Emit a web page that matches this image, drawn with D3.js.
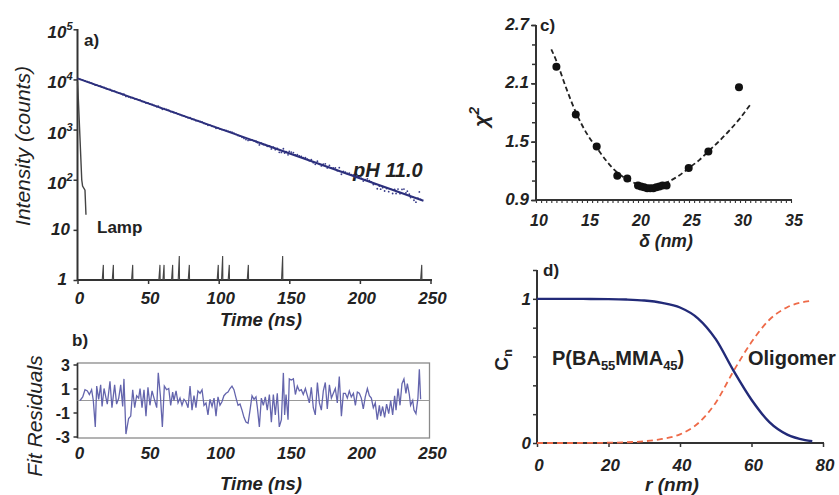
<!DOCTYPE html>
<html>
<head>
<meta charset="utf-8">
<script src="https://cdn.jsdelivr.net/npm/d3@7"></script>
<style>
  body { margin: 0; background: #fff; }
  svg { display: block; }
  text { font-family: "Liberation Sans", Arial, Helvetica, sans-serif; fill: #222; }
</style>
</head>
<body>
<svg id="fig" width="839" height="495"></svg>
<script>
// ---------- a) fluorescence decay at pH 11.0 ----------
const fitStart = [0, 10500];          // single-exponential fit, start (ns, counts)
const fitEnd = [245, 38];             // single-exponential fit, end (ns, counts)
const lampTime = [0, 0.6, 3.0, 3.6, 5.3, 6.0];
const lampCounts = [9000, 4000, 100, 75, 62, 20];
const lampSpikeTime = [18.3, 25.4, 39.1, 58.4, 61.3, 67.4, 72.1, 79.2, 99.7, 102.8, 107.5, 121, 145.3, 243.8];
const lampSpikeCounts = [2, 2, 2, 2, 2, 2, 3, 2, 2, 3, 2, 2, 3, 2];
const decayTicks = [1, 10, 100, 1000, 10000, 100000];
const decayTickLabels = [["1", ""], ["10", ""], ["10", "2"], ["10", "3"], ["10", "4"], ["10", "5"]];
const timeTicks = [0, 50, 100, 150, 200, 250];

// ---------- b) weighted fit residuals ----------
const residTime = [1.8,3.7,5.3,7.0,8.4,10.0,11.2,12.6,13.6,15.0,16.4,17.4,18.8,20.2,21.1,23.0,24.4,26.3,27.7,29.2,
  30.6,32.0,32.9,34.3,36.2,37.7,39.1,40.5,41.9,43.3,44.3,45.7,47.1,48.5,49.9,51.3,52.8,54.2,56.1,57.2,
  58.7,60.1,61.5,63.1,64.6,66.0,67.4,68.3,69.8,71.2,72.6,74.0,75.4,76.8,78.3,79.7,81.1,82.5,83.9,85.3,
  86.8,88.2,89.6,91.0,92.4,93.8,95.3,96.7,98.1,99.5,100.9,102.3,103.7,105.2,106.6,108.0,109.4,110.8,112.3,113.7,
  115.1,116.5,117.9,119.3,120.8,122.2,123.6,125.0,126.4,127.4,128.8,130.2,131.6,133.0,134.4,135.9,137.3,138.7,140.1,141.5,
  142.9,144.4,145.8,146.7,147.7,149.1,150.0,151.4,152.9,154.3,155.7,157.1,158.5,159.9,161.4,162.8,164.2,165.6,167.0,168.4,
  169.9,171.3,172.7,174.1,175.5,176.9,178.4,179.8,181.2,182.6,184.0,185.4,186.9,188.3,189.7,191.1,192.5,193.9,195.4,196.8,
  198.2,199.6,201.0,202.4,203.8,205.3,206.7,208.1,209.5,210.9,212.3,213.8,214.7,216.1,217.5,218.9,220.4,221.8,223.2,224.6,
  225.6,227.0,228.4,229.8,231.2,232.6,233.6,235.0,235.9,237.4,238.3,239.7,241.1,242.1,243.0];
const residValue = [0,0.3,0.9,0.8,0.5,0.9,0,-2.2,1.2,0.1,1.3,-0.5,1.0,0.2,-0.3,1.6,-0.6,1.3,-0.3,0.2,
  1.3,-0.5,1.8,-2.8,-1.5,-1.3,0.9,-0.6,0.4,0.2,1.0,-0.6,0.9,-1.3,1.1,-0.4,0.8,0.2,-0.6,2.3,
  0.4,-2.2,1.2,0.9,1.0,-0.4,0.7,0,0.8,-0.2,0.2,-0.4,0.1,-0.1,-0.6,1.2,-0.8,0.4,-0.6,0.8,
  0.6,0.9,-0.4,-0.2,-1.2,0.1,-0.5,0.2,-1.3,0.3,-0.4,-0.1,0.4,0.6,0.7,1.0,1.2,0.9,0.2,-0.4,
  -0.3,-0.8,-1.4,-1.8,-1.9,-0.8,0.4,0.1,0.3,-0.6,-2.2,0.2,-0.4,0.3,-0.8,0.5,-1.8,0.5,-1.2,0.6,
  -2.2,-1.6,2.3,-1.2,0.5,-1.6,1.8,1.7,1.8,0.5,1.2,0.8,0.9,0.5,1.0,0.4,-0.2,1.1,-0.6,-1.2,
  1.5,-0.2,-0.8,0.8,1.5,-0.7,1.3,0.2,0.6,1.0,-0.2,2.0,-1.3,0.6,0.6,0.2,0.8,0.3,0.6,-0.4,
  0.7,0.6,0.2,-0.7,0.3,1.0,0.4,0.2,-0.6,-0.2,-1.6,-0.4,-1.3,-0.5,-1.4,-0.3,-1.1,0.0,-1.2,0.4,
  -0.8,1.0,-0.4,1.4,1.8,0.6,1.4,0.5,-0.4,0.0,-0.8,-1.1,0.2,2.6,0.1];
const residTicks = [-3, -1, 1, 3];

// ---------- c) chi-square versus interface thickness ----------
const deltaNm = [12.0,13.9,15.95,17.97,18.95,20.0,20.3,20.6,20.9,21.2,21.5,21.8,22.1,22.4,22.8,24.97,26.9,29.9];
const chiSq   = [2.27,1.78,1.45,1.15,1.12,1.05,1.04,1.03,1.02,1.02,1.02,1.03,1.04,1.05,1.05,1.23,1.40,2.06];
const chiFitDelta = [11.5,12,13,14,15,16,17,18,19,20,21,22,23,24,25,26,27,28,29,30,31];
const chiFitValue = [2.45,2.33,2.04,1.78,1.58,1.43,1.29,1.18,1.11,1.06,1.04,1.05,1.09,1.15,1.23,1.31,1.41,1.51,1.62,1.74,1.88];
const deltaTicks = [10, 15, 20, 25, 30, 35];
const chiTicks = [0.9, 1.5, 2.1, 2.7];

// ---------- d) concentration profiles ----------
const rNm = [0,5,10,15,20,25,30,35,40,45,50,55,60,65,70,75,77];
const cnPolymer  = [1,1,1,0.999,0.998,0.995,0.988,0.972,0.94,0.865,0.72,0.5,0.3,0.145,0.058,0.02,0.012];
const cnOligomer = [0,0,0,0.001,0.002,0.005,0.012,0.028,0.06,0.135,0.28,0.5,0.7,0.855,0.942,0.98,0.988];
const rTicks = [0, 20, 40, 60, 80];
const cnTicks = [0, 1];

const svg = d3.select("#fig");
const AXIS = "#333";
const NAVY = "#2c2f7c";

function label(x, y, str, opts = {}) {
  return svg.append("text")
    .attr("x", x).attr("y", y)
    .attr("text-anchor", opts.anchor || "start")
    .attr("font-size", opts.size || 16)
    .attr("font-weight", opts.weight || "bold")
    .attr("font-style", opts.style || "normal")
    .text(str);
}
function styleAxis(g) {
  g.select(".domain").remove();
  g.selectAll(".tick line").attr("stroke", AXIS).attr("stroke-width", 1.5);
  g.selectAll(".tick text").remove();
}

// ===== panel a =====
const xA = d3.scaleLinear().domain([0, 250]).range([77.5, 430.5]);
const yA = d3.scaleLog().domain([1, 1e5]).range([280, 29.3]);

svg.append("g").attr("transform", "translate(77.5,0)")
  .call(d3.axisLeft(yA).tickValues(decayTicks).tickSize(4).tickFormat(""))
  .call(styleAxis);
svg.append("g").attr("transform", "translate(0,280)")
  .call(d3.axisBottom(xA).tickValues(timeTicks).tickSize(4).tickFormat(""))
  .call(styleAxis);
svg.append("line").attr("x1", 77.5).attr("x2", 77.5).attr("y1", 29).attr("y2", 280)
  .attr("stroke", AXIS).attr("stroke-width", 2);
svg.append("line").attr("x1", 77.5).attr("x2", 432).attr("y1", 280).attr("y2", 280)
  .attr("stroke", AXIS).attr("stroke-width", 2);

decayTicks.forEach((v, i) => {
  const [base, sup] = decayTickLabels[i];
  const t = svg.append("text")
    .attr("x", sup ? 72.5 : (v === 1 ? 67 : 70))
    .attr("y", yA(v) + (sup ? 9 : 5))
    .attr("text-anchor", "end").attr("font-size", 17)
    .attr("font-weight", "bold").attr("font-style", "italic")
    .text(base);
  if (sup) t.append("tspan").attr("font-size", 11).attr("dy", -8).text(sup);
});
timeTicks.forEach(v => label(xA(v) + 2, 304, String(v), { anchor: "middle", size: 17, style: "italic" }));
label(261, 326, "Time (ns)", { anchor: "middle", size: 18.5, style: "italic" });
svg.append("text").attr("transform", "translate(30,146) rotate(-90)")
  .attr("text-anchor", "middle").attr("font-size", 21).attr("font-style", "italic")
  .text("Intensity (counts)");
label(84, 46, "a)", { size: 17 });
label(97, 233, "Lamp", { size: 17 });
label(353, 177, "pH 11.0", { size: 20, style: "italic" });

// lamp profile
svg.append("path")
  .datum(lampTime.map((t, i) => [t, lampCounts[i]]))
  .attr("fill", "none").attr("stroke", "#444").attr("stroke-width", 1.4)
  .attr("d", d3.line().x(d => xA(d[0])).y(d => yA(d[1])));
// isolated lamp counts near the baseline
svg.append("g").selectAll("path")
  .data(lampSpikeTime.map((t, i) => [t, lampSpikeCounts[i]]))
  .join("path")
  .attr("fill", "none").attr("stroke", "#444").attr("stroke-width", 1.1)
  .attr("d", d => d3.line()([[xA(d[0] - 0.8), yA(1)], [xA(d[0]), yA(d[1])], [xA(d[0] + 0.15), yA(1)]]));

// fit (straight on log axis) and measured counts = fit + residual * sqrt(fit)
const fitAt = t => Math.exp(Math.log(fitStart[1]) +
  (t - fitStart[0]) / (fitEnd[0] - fitStart[0]) * (Math.log(fitEnd[1]) - Math.log(fitStart[1])));
const decayPts = residTime.map((t, i) => [t, fitAt(t) + residValue[i] * Math.sqrt(fitAt(t))]);
svg.append("g").selectAll("circle").data(decayPts).join("circle")
  .attr("cx", d => xA(d[0])).attr("cy", d => yA(d[1])).attr("r", 0.9)
  .attr("fill", "#3a3d8a");
svg.append("path").datum([fitStart, fitEnd])
  .attr("fill", "none").attr("stroke", NAVY).attr("stroke-width", 2)
  .attr("d", d3.line().x(d => xA(d[0])).y(d => yA(d[1])));

// ===== panel b =====
const xB = d3.scaleLinear().domain([0, 250]).range([77.5, 430.5]);
const yB = d3.scaleLinear().domain([-3, 3]).range([436.5, 364.5]);
svg.append("rect").attr("x", 77.5).attr("y", 363).attr("width", 352).attr("height", 75)
  .attr("fill", "none").attr("stroke", "#8a8a8a").attr("stroke-width", 1.3);
svg.append("line").attr("x1", 77.5).attr("x2", 77.5).attr("y1", 363).attr("y2", 438)
  .attr("stroke", AXIS).attr("stroke-width", 1.6);
svg.append("g").attr("transform", "translate(77.5,0)")
  .call(d3.axisLeft(yB).tickValues(residTicks).tickSize(4).tickFormat(""))
  .call(styleAxis);
svg.append("line").attr("x1", xB(0)).attr("x2", 429.5).attr("y1", yB(0)).attr("y2", yB(0))
  .attr("stroke", "#999").attr("stroke-width", 1);
svg.append("path")
  .datum(residTime.map((t, i) => [t, residValue[i]]))
  .attr("fill", "none").attr("stroke", "#6465ad").attr("stroke-width", 1.3)
  .attr("d", d3.line().x(d => xB(d[0])).y(d => yB(d[1])));
residTicks.forEach(v => label(70, yB(v) + 6, String(v), { anchor: "end", size: 16 }));
timeTicks.forEach(v => label(xB(v) + 2, 459, String(v), { anchor: "middle", size: 17, style: "italic" }));
label(261, 490, "Time (ns)", { anchor: "middle", size: 18.5, style: "italic" });
svg.append("text").attr("transform", "translate(42,416) rotate(-90)")
  .attr("text-anchor", "middle").attr("font-size", 21).attr("font-style", "italic")
  .text("Fit Residuals");
label(72, 346, "b)", { size: 17 });

// ===== panel c =====
const xC = d3.scaleLinear().domain([10, 35]).range([536, 791]);
const yC = d3.scaleLinear().domain([0.9, 2.7]).range([200, 25]);
svg.append("g").attr("transform", "translate(536,0)")
  .call(d3.axisLeft(yC).tickValues(d3.range(0.9, 2.71, 0.2)).tickSize(4).tickFormat(""))
  .call(styleAxis);
svg.append("g").attr("transform", "translate(536,0)")
  .call(d3.axisLeft(yC).tickValues(chiTicks).tickSize(5).tickFormat(""))
  .call(styleAxis);
svg.append("g").attr("transform", "translate(0,200)")
  .call(d3.axisBottom(xC).tickValues(d3.range(10, 35.01, 0.5)).tickSize(3).tickFormat(""))
  .call(styleAxis)
  .call(g => g.selectAll(".tick line").attr("stroke-width", 1.1));
svg.append("line").attr("x1", 536).attr("x2", 536).attr("y1", 25).attr("y2", 200)
  .attr("stroke", AXIS).attr("stroke-width", 2);
svg.append("line").attr("x1", 536).attr("x2", 792).attr("y1", 200).attr("y2", 200)
  .attr("stroke", AXIS).attr("stroke-width", 2);
svg.append("path")
  .datum(chiFitDelta.map((d, i) => [d, chiFitValue[i]]))
  .attr("fill", "none").attr("stroke", "#222").attr("stroke-width", 1.8)
  .attr("stroke-dasharray", "5,3")
  .attr("d", d3.line().curve(d3.curveMonotoneX).x(d => xC(d[0])).y(d => yC(d[1])));
svg.append("g").selectAll("circle")
  .data(deltaNm.map((d, i) => [d, chiSq[i]]))
  .join("circle")
  .attr("cx", d => xC(d[0])).attr("cy", d => yC(d[1])).attr("r", 4)
  .attr("fill", "#111");
chiTicks.forEach(v => label(529, yC(v) + 5, v.toFixed(1), { anchor: "end", size: 17, style: "italic" }));
deltaTicks.forEach(v => label(xC(v) + 3, 226, String(v), { anchor: "middle", size: 16, style: "italic" }));
label(666, 247, "δ (nm)", { anchor: "middle", size: 17.5, style: "italic" });
const chiLab = svg.append("text").attr("transform", "translate(488,117) rotate(-90)")
  .attr("text-anchor", "middle").attr("font-size", 21)
  .attr("font-weight", "bold").attr("font-style", "italic").text("χ");
chiLab.append("tspan").attr("font-size", 14).attr("dy", -9).text("2");
label(540, 31, "c)", { size: 17 });

// ===== panel d =====
const xD = d3.scaleLinear().domain([0, 80]).range([537, 823]);
const yD = d3.scaleLinear().domain([0, 1.2]).range([443, 270]);
svg.append("g").attr("transform", "translate(537,0)")
  .call(d3.axisLeft(yD).tickValues(d3.range(0, 1.21, 0.2)).tickSize(4).tickFormat(""))
  .call(styleAxis);
svg.append("g").attr("transform", "translate(0,443)")
  .call(d3.axisBottom(xD).tickValues(rTicks).tickSize(4).tickFormat(""))
  .call(styleAxis);
svg.append("line").attr("x1", 537).attr("x2", 537).attr("y1", 270).attr("y2", 443)
  .attr("stroke", AXIS).attr("stroke-width", 2);
svg.append("line").attr("x1", 537).attr("x2", 824).attr("y1", 443).attr("y2", 443)
  .attr("stroke", AXIS).attr("stroke-width", 2);
const profLine = d3.line().curve(d3.curveMonotoneX).x(d => xD(d[0])).y(d => yD(d[1]));
svg.append("path").datum(rNm.map((r, i) => [r, cnOligomer[i]]))
  .attr("fill", "none").attr("stroke", "#ee6a48").attr("stroke-width", 1.8)
  .attr("stroke-dasharray", "6,4").attr("d", profLine);
svg.append("path").datum(rNm.map((r, i) => [r, cnPolymer[i]]))
  .attr("fill", "none").attr("stroke", "#222a78").attr("stroke-width", 2.4)
  .attr("d", profLine);
cnTicks.forEach(v => label(531, yD(v) + 6, String(v), { anchor: "end", size: 17, style: "italic" }));
rTicks.forEach(v => label(xD(v) + 2, 471, String(v), { anchor: "middle", size: 17, style: "italic" }));
label(672, 491, "r (nm)", { anchor: "middle", size: 19, style: "italic" });
const cnLab = svg.append("text").attr("transform", "translate(508,360) rotate(-90)")
  .attr("text-anchor", "middle").attr("font-size", 19).attr("font-weight", "bold").text("C");
cnLab.append("tspan").attr("font-size", 13).attr("dy", 4).text("n");
label(543, 276, "d)", { size: 17 });
const pLab = label(552, 365, "P(BA", { size: 20 });
pLab.append("tspan").attr("font-size", 13).attr("dy", 5).text("55");
pLab.append("tspan").attr("dy", -5).text("MMA");
pLab.append("tspan").attr("font-size", 13).attr("dy", 5).text("45");
pLab.append("tspan").attr("dy", -5).text(")");
label(748, 365, "Oligomer", { size: 20 });
</script>
</body>
</html>
